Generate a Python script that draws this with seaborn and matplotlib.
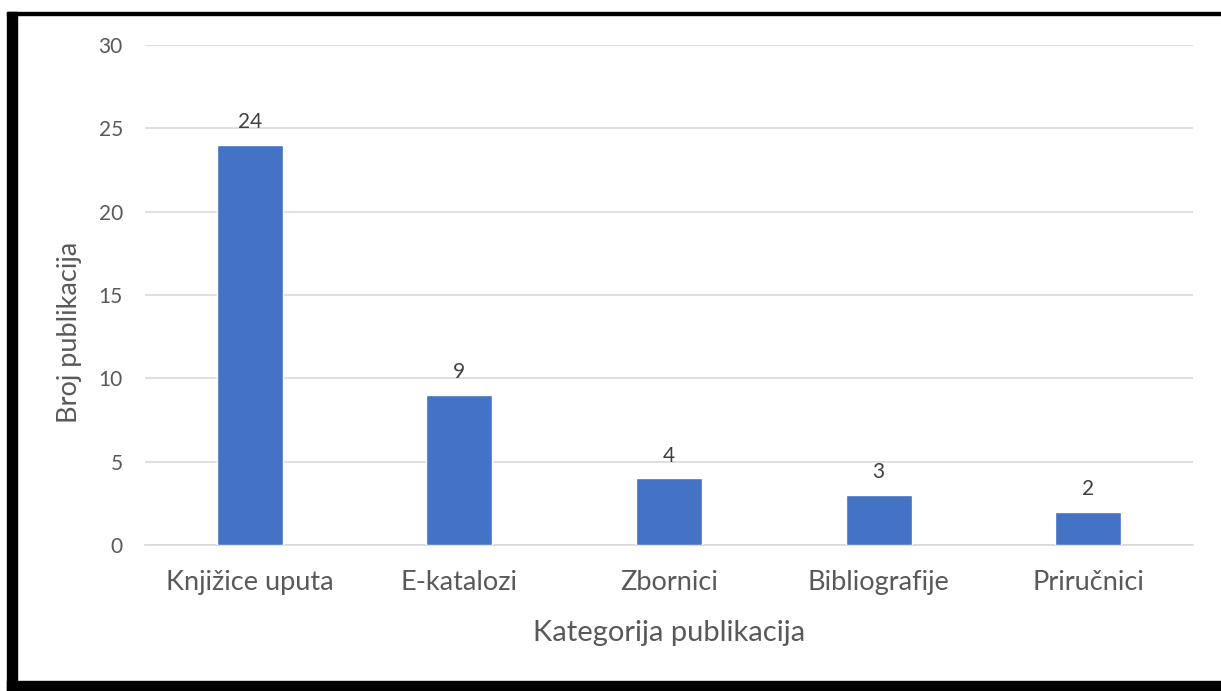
import matplotlib
matplotlib.use("Agg")
import matplotlib.pyplot as plt
import seaborn as sns
from matplotlib.patches import Rectangle

kategorije = ["Knjižice uputa", "E-katalozi", "Zbornici", "Bibliografije", "Priručnici"]
broj = [24, 9, 4, 3, 2]
y_ticks = [0, 5, 10, 15, 20, 25, 30]

sns.set_style("white")
plt.rcParams["font.family"] = ["Lato", "DejaVu Sans"]

fig = plt.figure(figsize=(12.21, 6.91), dpi=100)
ax = fig.add_axes([145 / 1221, 1 - 545 / 691, 1048 / 1221, 500 / 691])

sns.barplot(x=kategorije, y=broj, color="#4472C4", saturation=1, width=0.315, ax=ax, zorder=3)

ax.set_ylim(0, 30)
ax.set_xlim(-0.5, 4.5)
ax.set_yticks(y_ticks)
ax.grid(axis="y", color="#d9d9d9", linewidth=1.2, zorder=0)
ax.set_axisbelow(True)
for s in ["top", "right", "left"]:
    ax.spines[s].set_visible(False)
ax.spines["bottom"].set_color("#d9d9d9")
ax.spines["bottom"].set_linewidth(1.2)
ax.tick_params(axis="both", length=0, labelcolor="#595959")
ax.tick_params(axis="x", labelsize=19.5, pad=18)
ax.tick_params(axis="y", labelsize=15, pad=16)

for c in ax.containers:
    ax.bar_label(c, padding=9, fontsize=15, color="#404040")

ax.set_xlabel("Kategorija publikacija", fontsize=21, color="#595959", labelpad=18)
ax.set_ylabel("Broj publikacija", fontsize=19.5, color="#595959")
ax.yaxis.set_label_coords(-0.060, 0.426)

# okvir slike
fig.patches.append(Rectangle((7 / 1221, 0), 10 / 1221, 1 - 12 / 691, transform=fig.transFigure, color="black"))
fig.patches.append(Rectangle((7 / 1221, 1 - 15 / 691), 1, 3 / 691, transform=fig.transFigure, color="black"))
fig.patches.append(Rectangle((7 / 1221, 0), 1, 10 / 691, transform=fig.transFigure, color="black"))

fig.savefig("out.png", dpi=100)
